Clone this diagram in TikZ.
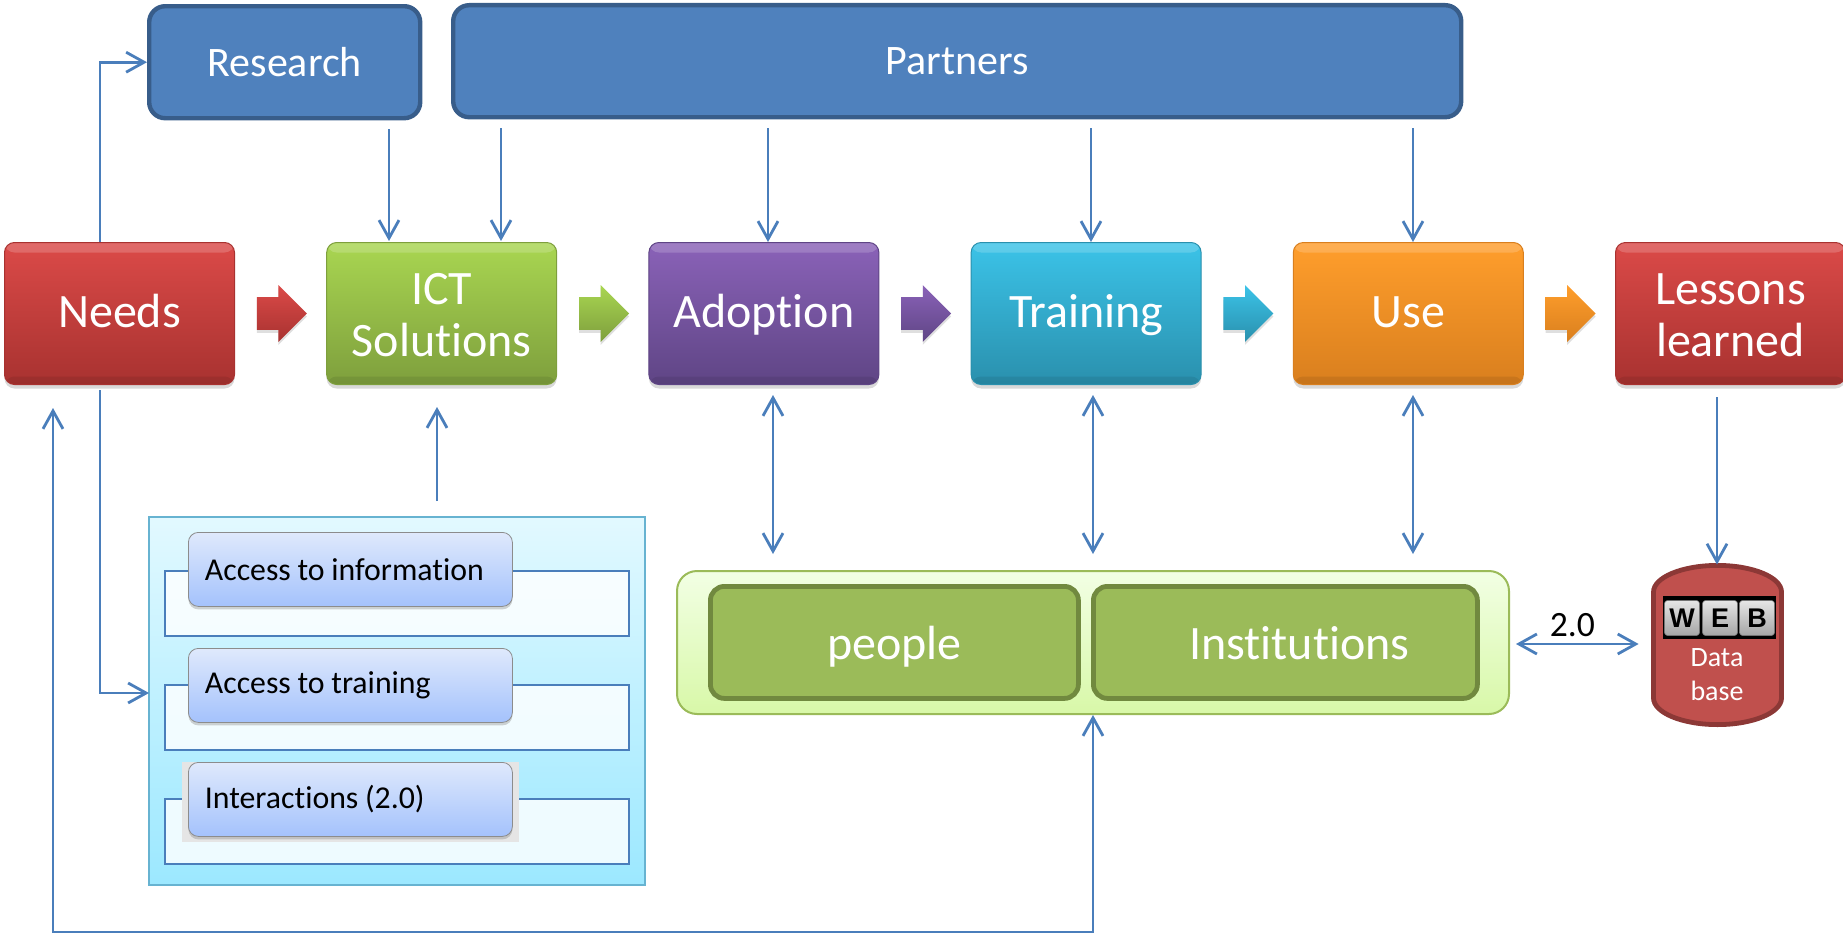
\documentclass[tikz,border=0pt]{standalone}
\usepackage{fontspec}
\setmainfont[Ligatures=NoCommon]{Carlito}
\newfontfamily\keyfont{Liberation Sans}
\usetikzlibrary{arrows.meta,calc,positioning,shadows,shapes.arrows}
\newcommand{\labelstrut}{\rule[-6pt]{0pt}{26pt}}
\newcommand{\tallstrut}{\rule{0pt}{23.3pt}}
\definecolor{linkblue}{HTML}{4A7EBB}
\definecolor{needsT}{HTML}{DB4A48}
\definecolor{needsB}{HTML}{A83230}
\definecolor{ictT}{HTML}{A9D651}
\definecolor{ictB}{HTML}{7E9F3D}
\definecolor{adoptT}{HTML}{8A62B8}
\definecolor{adoptB}{HTML}{5F4585}
\definecolor{trainT}{HTML}{3BC3E8}
\definecolor{trainB}{HTML}{2A90AD}
\definecolor{useT}{HTML}{FF9E2C}
\definecolor{useB}{HTML}{D97F1E}
\definecolor{topfill}{HTML}{4F81BD}
\definecolor{topline}{HTML}{385D8A}
\definecolor{panelT}{HTML}{E2F9FF}
\definecolor{panelB}{HTML}{9CE8FF}
\definecolor{pillT}{HTML}{DFE9FC}
\definecolor{pillB}{HTML}{A4C2FC}
\definecolor{actorT}{HTML}{F2FFE4}
\definecolor{actorB}{HTML}{D8F8A8}
\definecolor{groupfill}{HTML}{9BBB59}
\definecolor{groupline}{HTML}{71893F}
\definecolor{dbfill}{HTML}{C0504D}
\definecolor{dbline}{HTML}{8C3836}
\tikzset{
  link/.style={draw=linkblue,line width=1.4pt,-{Straight Barb[length=9pt,width=10pt]}},
  dlink/.style={link,{Straight Barb[length=9pt,width=10pt]}-{Straight Barb[length=9pt,width=10pt]}},
  stage/.style 2 args={rounded corners=5pt,minimum width=115pt,minimum height=71pt,inner sep=0pt,
    draw=#2,line width=.5pt,top color=#1,bottom color=#2,text=white,align=center,
    font=\fontsize{24}{26}\selectfont,
    execute at begin node=\labelstrut,execute at end node=\labelstrut,
    drop shadow={shadow xshift=0pt,shadow yshift=-2pt,opacity=.3},
    path picture={
      \fill[white,opacity=.18] (path picture bounding box.north west) rectangle ([yshift=-5pt]path picture bounding box.north east);
      \fill[black,opacity=.08] (path picture bounding box.south west) rectangle ([yshift=4pt]path picture bounding box.south east);}},
  blockarrow/.style 2 args={single arrow,minimum height=25pt,minimum width=28pt,
    single arrow head extend=6pt,inner xsep=0pt,inner ysep=8pt,top color=#1,bottom color=#2,
    drop shadow={shadow xshift=0pt,shadow yshift=-1.5pt,opacity=.25}},
  topbox/.style={draw=topline,line width=2.2pt,fill=topfill,rounded corners=8pt,
    text=white,minimum height=56pt,font=\fontsize{21}{24}\selectfont},
  pill/.style={rounded corners=5pt,draw=black!45,top color=pillT,bottom color=pillB,
    minimum height=37pt,text width=145.5pt,inner xsep=8.25pt,inner ysep=0pt,align=left,
    font=\fontsize{15.9}{17}\selectfont,
    execute at begin node={\spaceskip=.21em\relax},
    drop shadow={shadow xshift=0pt,shadow yshift=-1.5pt,opacity=.35}},
  frame/.style={draw=linkblue,line width=.8pt,fill=white,fill opacity=.82,minimum width=232pt,minimum height=32.5pt,inner sep=0pt},
  groupbox/.style={draw=groupline,line width=2.4pt,fill=groupfill,rounded corners=7pt,
    text=white,minimum height=56pt,font=\fontsize{24}{26}\selectfont,
    execute at begin node={\rule[-6pt]{0pt}{29.5pt}}},
  keycap/.style={rounded corners=1.5pt,draw=black!55,line width=.3pt,top color=black!10,bottom color=black!35,text=black,
    minimum width=17.5pt,minimum height=17.5pt,inner sep=0pt,font=\fontsize{13.5}{14}\keyfont\bfseries}
}
\begin{document}
\begin{tikzpicture}[x=.5pt,y=-.5pt]
\useasboundingbox (0,0) rectangle (1843,937);
\node[stage={needsT}{needsB},anchor=north west] (needs) at (4,242) {Needs};
\node[stage={ictT}{ictB},right=45.6pt of needs] (ict) {\tallstrut ICT\\Solutions};
\node[stage={adoptT}{adoptB},right=45.6pt of ict] (adoption) {Adoption};
\node[stage={trainT}{trainB},right=45.6pt of adoption] (training) {Training};
\node[stage={useT}{useB},right=45.6pt of training] (use) {Use};
\node[stage={needsT}{needsB},right=45.6pt of use] (lessons) {\tallstrut Lessons\\learned};
\foreach \a/\b/\c in {needs/ict/needs,ict/adoption/ict,adoption/training/adopt,training/use/train,use/lessons/use}
  \node[blockarrow={\c T}{\c B},xshift=-3.5pt] (arrow\a) at ($(\a.east)!.5!(\b.west)$) {};
\node[topbox,anchor=north west,minimum width=135.5pt] (research) at (147,4) {Research};
\node[topbox,anchor=north west,minimum width=504pt] (partners) at (451,3) {Partners};
\node[draw=cyan!50!teal!70!white,line width=1pt,top color=panelT,bottom color=panelB,
  anchor=north west,minimum width=248pt,minimum height=184pt] (panel) at (148,516) {};
\node[frame,anchor=north west] (frameA) at (164,570) {};
\node[frame,anchor=north west] (frameB) at (164,684) {};
\node[frame,anchor=north west] (frameC) at (164,798) {};
\fill[black!10] (182,762) rectangle (519,842);
\node[pill,anchor=north west] (info) at (188,532) {Access to information};
\node[pill,anchor=north west] (access) at (188,648) {Access to training};
\node[pill,anchor=north west] (inter) at (188,762) {Interactions (2.0)};
\node[draw=groupfill,line width=1pt,top color=actorT,bottom color=actorB,rounded corners=10pt,
  anchor=north west,minimum width=416pt,minimum height=71.5pt] (actors) at (676,570) {};
\node[groupbox,anchor=north west,minimum width=184pt] (people) at (708,584) {people};
\node[groupbox,anchor=north west,minimum width=192pt] (inst) at (1091,584) {\hspace{14pt}Institutions};
\node[minimum width=66.5pt,minimum height=82pt,inner sep=0pt] (db) at (1717.5,645) {};
\draw[draw=dbline,line width=2.4pt,fill=dbfill]
  (1653.5,592) arc[start angle=180,end angle=0,x radius=32pt,y radius=13.3pt]
  -- (1781.5,698) arc[start angle=0,end angle=-180,x radius=32pt,y radius=13.3pt] -- cycle;
\fill[black] (1663,596) rectangle (1776,639);
\foreach \k/\t in {1682/W,1720/E,1757/B}
  \node[keycap] (key\t) at (\k,618) {\t};
\node[text=white,align=center,font=\fontsize{14}{17}\selectfont] (dbtext) at (1717,675) {Data\\base};
\coordinate (nb) at (100,0);
\coordinate (rd) at (389,0);
\coordinate (pd) at (501,0);
\coordinate (au) at (768,0);
\coordinate (ad) at (773,0);
\coordinate (tu) at (1091,0);
\coordinate (td) at (1093,0);
\coordinate (uu) at (1413,0);
\coordinate (ld) at (1717,0);
\coordinate (iu) at (437,0);
\coordinate (panelin) at (149,693);
\coordinate (loopL) at (53,932);
\coordinate (lk) at (0,644);
\draw[link] (needs.north -| nb) |- (research.west);
\draw[link,shorten <=2.5pt] (needs.south -| nb) |- (panelin);
\draw[dlink,shorten <=11.5pt] (needs.south -| loopL) -- (loopL) -| (actors.south);
\draw[link,shorten <=4.5pt,shorten >=.5pt] (research.south -| rd) -- (ict.north -| rd);
\draw[link,shorten <=4.5pt,shorten >=.5pt] (partners.south -| pd) -- (ict.north -| pd);
\draw[link,shorten <=4.5pt] (partners.south -| au) -- (adoption.north -| au);
\draw[link,shorten <=4.5pt] (partners.south -| tu) -- (training.north -| tu);
\draw[link,shorten <=4.5pt] (partners.south -| uu) -- (use.north -| uu);
\draw[link,shorten <=7.5pt,shorten >=11pt] (panel.north -| iu) -- (ict.south -| iu);
\draw[dlink,shorten <=5pt,shorten >=8pt] (adoption.south -| ad) -- (actors.north -| ad);
\draw[dlink,shorten <=5pt,shorten >=8pt] (training.south -| td) -- (actors.north -| td);
\draw[dlink,shorten <=5pt,shorten >=8pt] (use.south -| uu) -- (actors.north -| uu);
\draw[link,shorten <=6pt,shorten >=-1pt] (lessons.south -| ld) -- (db.north -| ld);
\draw[dlink,shorten <=3pt,shorten >=6pt] (actors.east |- lk) -- node[above=-.5pt,xshift=-4pt,text=black,font=\fontsize{17.8}{20}\selectfont] (webtwo) {2.0} (db.west |- lk);
\end{tikzpicture}
\end{document}
